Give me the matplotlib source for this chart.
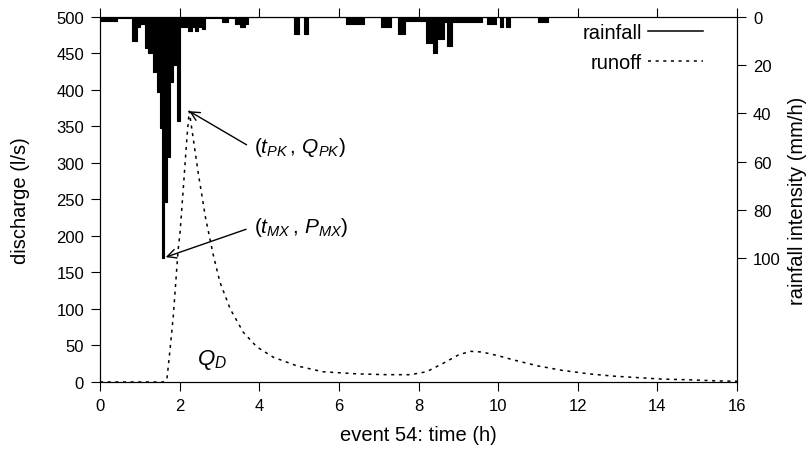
import matplotlib
matplotlib.use("Agg")
import matplotlib.pyplot as plt
import numpy as np

plt.rcParams['font.family'] = ['Liberation Sans', 'DejaVu Sans']
plt.rcParams['font.size'] = 12
plt.rcParams['mathtext.fontset'] = 'custom'
plt.rcParams['mathtext.rm'] = 'Liberation Sans'
plt.rcParams['mathtext.it'] = 'Liberation Sans:italic'

# rainfall hyetograph: interval start times (h) and intensity (mm/h), step-post
rain_t = [0.00, 0.43, 0.80, 0.93, 1.01, 1.13, 1.21, 1.33, 1.43, 1.51, 1.56, 1.61,
          1.68, 1.76, 1.83, 1.93, 2.01, 2.21, 2.31, 2.39, 2.46, 2.56, 2.64, 3.07,
          3.22, 3.39, 3.52, 3.64, 3.72, 4.87, 5.00, 5.13, 5.23, 6.18, 6.63, 7.06,
          7.31, 7.49, 7.66, 8.19, 8.34, 8.37, 8.47, 8.49, 8.64, 8.72, 8.84, 8.89,
          9.60, 9.72, 9.95, 10.05, 10.13, 10.20, 10.30, 11.00, 11.26]
rain_i = [1.5, 0.4, 10, 4, 3, 13, 15, 23, 31, 46, 100, 77,
          58, 27, 20, 43, 4, 6, 4, 6, 4, 5, 0.5, 2,
          0.5, 3, 4, 3, 0, 7, 0, 7, 0, 3, 0, 4,
          0, 7, 1.5, 11, 2, 15, 2, 9, 2, 12, 2, 2,
          0, 3, 0, 4, 0, 4, 0, 2, 0]

# runoff hydrograph (l/s)
runoff_t = [0, 1.60, 1.68, 1.75, 1.84, 1.96, 2.01, 2.09, 2.18, 2.24, 2.35, 2.47,
            2.65, 2.84, 3.01, 3.27, 3.60, 3.94, 4.35, 4.95, 5.60, 6.50, 7.20, 7.80,
            8.20, 8.60, 9.00, 9.30, 9.60, 10.0, 10.4, 11.0, 11.6, 12.3, 12.9, 13.5,
            14.1, 14.8, 15.5, 16.0]
runoff_q = [0, 0, 4, 40, 90, 180, 205, 264, 333, 371, 330, 285,
            225, 175, 137, 100, 68, 48, 34, 22, 14, 11, 10, 10,
            14, 25, 37, 42, 41, 36, 30, 22, 16, 11, 8, 6,
            4, 3, 1.5, 1]

fig = plt.figure(figsize=(8.1, 4.52), dpi=100)
ax = fig.add_axes([0.1235, 0.1527, 0.7864, 0.8075])
ax2 = ax.twinx()

ax.plot(runoff_t, runoff_q, color='black', lw=1.1, linestyle=(0, (2, 3)), label='runoff')
ax2.fill_between(rain_t, 0, rain_i, step='post', color='black', lw=0)
ax2.step(rain_t, rain_i, where='post', color='black', lw=0.8)

ax.set_xlim(0, 16)
ax.set_ylim(0, 500)
ax2.set_ylim(151.5, 0)
ax.set_xticks(np.arange(0, 17, 2))
ax.set_yticks(np.arange(0, 501, 50))
ax2.set_yticks(np.arange(0, 101, 20))
ax.tick_params(direction='out', length=6.5, pad=5, top=True, labelsize=12)
ax2.tick_params(direction='out', length=6.5, pad=5, labelsize=12)

ax.set_xlabel('event 54: time (h)', fontsize=14.5, labelpad=9)
ax.set_ylabel('discharge (l/s)', fontsize=14.5, labelpad=19)
ax2.set_ylabel('rainfall intensity (mm/h)', fontsize=14.5, labelpad=5)

# legend entries
ax.plot([], [], color='black', lw=1.1, label='rainfall')
h, l = ax.get_legend_handles_labels()
ax2.legend([h[1], h[0]], [l[1], l[0]], loc='upper right', frameon=False,
           markerfirst=False, handlelength=2.75, handletextpad=0.3,
           labelspacing=0.55, borderaxespad=0, borderpad=0, fontsize=14.5,
           bbox_to_anchor=(0.947, 0.983))

ax.text(1.5, 478, r'$P_D$', color='white', ha='center', va='center', fontsize=16)
ax.text(2.8, 31, r'$Q_D$', color='black', ha='center', va='center', fontsize=16)

arrow = dict(arrowstyle='->', color='black', lw=1, shrinkA=4, shrinkB=0,
             mutation_scale=16)
ax.annotate(r'$(t_{PK}\,,\,Q_{PK})$', xy=(2.24, 371), xytext=(3.87, 322),
            ha='left', va='center', fontsize=15,
            arrowprops=dict(arrow, relpos=(0, 0.4)))
ax.annotate(r'$(t_{MX}\,,\,P_{MX})$', xy=(1.65, 171), xytext=(3.87, 213),
            ha='left', va='center', fontsize=15,
            arrowprops=dict(arrow, relpos=(0, 0.5)))

fig.savefig('out.png', dpi=100)
